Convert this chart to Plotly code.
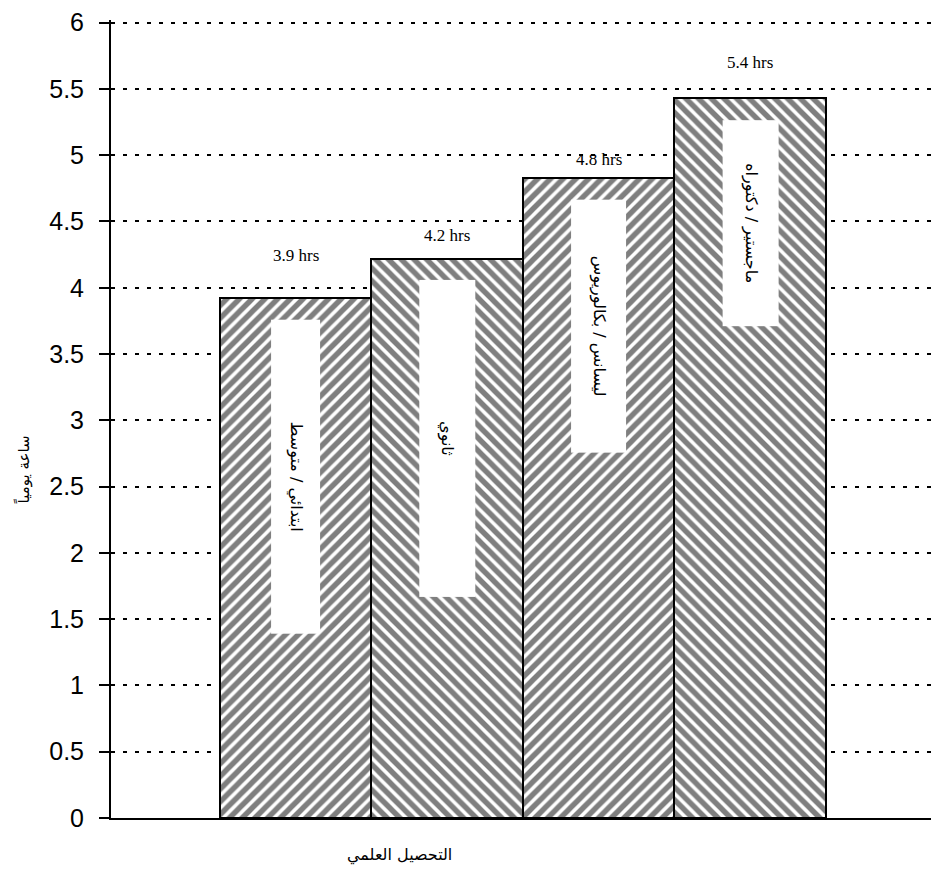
import plotly.graph_objects as go

categories = ["ابتدائي / متوسط", "ثانوي", "ليسانس / بكالوريوس", "ماجستير / دكتوراه"]
hours = [3.92, 4.22, 4.83, 5.43]
value_labels = ["3.9 hrs", "4.2 hrs", "4.8 hrs", "5.4 hrs"]
y_ticks = [0, 0.5, 1, 1.5, 2, 2.5, 3, 3.5, 4, 4.5, 5, 5.5, 6]
x_title = "التحصيل العلمي"
y_title = "ساعة يومياً"

hatch = ["/", "\\", "/", "\\"]
label_shift = [42, 23, 18, 35]
box_len = [313, 316, 252, 205]
box_thick = [48, 55, 54, 55]

PX_PER_UNIT = 133.0
pos = list(range(len(categories)))

fig = go.Figure()
fig.add_trace(go.Bar(
    x=pos, y=hours, width=1.0,
    marker=dict(color="white",
                line=dict(color="black", width=2),
                pattern=dict(shape=hatch, fgcolor="black", bgcolor="white",
                             size=9, solidity=0.6, fillmode="overlay")),
    hoverinfo="skip", showlegend=False,
))

for i, (c, v, lab) in enumerate(zip(categories, hours, value_labels)):
    fig.add_annotation(x=i, y=v, text=lab, showarrow=False, yanchor="bottom",
                       yshift=label_shift[i] - 11,
                       font=dict(family="Liberation Serif, Times New Roman, serif",
                                 size=17, color="black"))
    top = v - 0.17
    centre = top - box_len[i] / 2 / PX_PER_UNIT
    fig.add_annotation(x=i, y=centre, text=c, showarrow=False, textangle=90,
                       width=box_len[i], height=box_thick[i], bgcolor="white",
                       borderpad=0, align="center", valign="middle",
                       font=dict(family="DejaVu Sans", size=16, color="black"))

fig.add_annotation(x=0.349, xref="paper", y=-0.046, yref="paper", text=x_title,
                   showarrow=False, yanchor="middle",
                   font=dict(family="DejaVu Sans", size=16, color="black"))
fig.add_annotation(x=-0.121, xref="paper", y=0.437, yref="paper", text=y_title,
                   showarrow=False, textangle=-90,
                   font=dict(family="DejaVu Sans", size=15, color="black"))

fig.update_layout(
    width=931, height=861,
    margin=dict(l=103, r=0, t=9, b=51),
    paper_bgcolor="white", plot_bgcolor="white",
    bargap=0,
    xaxis=dict(range=[-1.219, 4.246], showticklabels=False, ticks="",
               showgrid=False, zeroline=False, showline=True,
               linecolor="black", linewidth=1.5, fixedrange=True),
    yaxis=dict(range=[0, 6.02], tickvals=y_ticks, ticktext=[f"{t:g}" for t in y_ticks],
               ticks="outside", ticklen=10, tickwidth=1.5, tickcolor="black",
               ticklabelstandoff=10, ticklabeloverflow="allow",
               showline=True, linecolor="black", linewidth=2,
               showgrid=True, gridcolor="black", gridwidth=1.5, griddash="4px,8px",
               zeroline=False,
               tickfont=dict(family="Liberation Sans", size=25, color="black")),
)

fig.write_html("out.html")
